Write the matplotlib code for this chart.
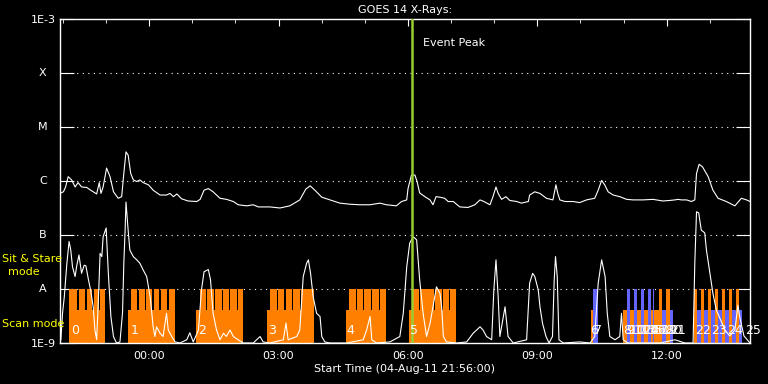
import matplotlib
matplotlib.use("Agg")
import matplotlib.pyplot as plt
import numpy as np
from matplotlib.ticker import NullLocator

# time axis: hours since start (04-Aug-11 21:56:00)
# flux: log10 of X-ray flux (W/m^2)
t_long = [0.02, 0.08, 0.13, 0.19, 0.27, 0.35, 0.42, 0.50, 0.62, 0.73, 0.85, 0.91, 0.95, 1.00,
          1.08, 1.16, 1.24, 1.35, 1.43, 1.48, 1.53, 1.58, 1.64, 1.70, 1.78, 1.85, 1.93, 2.05,
          2.16, 2.32, 2.47, 2.55, 2.63, 2.71, 2.82, 2.97, 3.17, 3.25, 3.34, 3.44, 3.55, 3.71,
          3.86, 4.02, 4.13, 4.33, 4.48, 4.60, 4.87, 5.10, 5.33, 5.56, 5.70, 5.80, 5.91, 6.07,
          6.26, 6.49, 6.72, 6.95, 7.19, 7.42, 7.57, 7.80, 7.92, 8.04, 8.07, 8.15, 8.23, 8.28,
          8.34, 8.46, 8.58, 8.65, 8.72, 8.81, 8.92, 9.00, 9.12, 9.27, 9.46, 9.62, 9.74, 9.83,
          9.97, 10.04, 10.11, 10.16, 10.24, 10.34, 10.43, 10.59, 10.70, 10.86, 10.89, 11.01,
          11.13, 11.28, 11.43, 11.50, 11.54, 11.59, 11.71, 11.90, 12.05, 12.21, 12.40, 12.48,
          12.56, 12.63, 12.71, 12.83, 12.98, 13.14, 13.29, 13.52, 13.75, 13.98, 14.14, 14.26,
          14.33, 14.41, 14.53, 14.64, 14.72, 14.76, 14.82, 14.90, 15.03, 15.14, 15.26, 15.45,
          15.65, 15.80, 15.92, 16.00]
f_long = [-6.22, -6.20, -6.11, -5.92, -5.98, -6.11, -6.03, -6.11, -6.12, -6.18, -6.24, -6.03, -6.23, -6.11,
          -5.76, -5.92, -6.20, -6.32, -6.29, -5.86, -5.46, -5.52, -5.86, -5.98, -6.01, -5.98, -6.03, -6.07,
          -6.17, -6.26, -6.26, -6.23, -6.29, -6.24, -6.33, -6.37, -6.38, -6.34, -6.17, -6.14, -6.20, -6.32,
          -6.34, -6.38, -6.44, -6.46, -6.44, -6.48, -6.48, -6.50, -6.46, -6.35, -6.15, -6.09, -6.17, -6.30,
          -6.35, -6.41, -6.43, -6.44, -6.44, -6.41, -6.44, -6.46, -6.38, -6.35, -6.14, -5.89, -5.89, -6.01,
          -6.22, -6.29, -6.35, -6.44, -6.29, -6.30, -6.32, -6.38, -6.38, -6.48, -6.49, -6.44, -6.35, -6.38,
          -6.44, -6.29, -6.11, -6.23, -6.34, -6.29, -6.36, -6.38, -6.41, -6.38, -6.26, -6.20,
          -6.23, -6.32, -6.35, -6.07, -6.22, -6.35, -6.38, -6.38, -6.40, -6.35, -6.32, -6.17,
          -5.99, -6.07, -6.20, -6.26, -6.29, -6.34, -6.35, -6.35, -6.34, -6.37, -6.36, -6.35,
          -6.34, -6.35, -6.35, -6.38, -6.35, -5.86, -5.69, -5.74, -5.92, -6.17, -6.32, -6.38,
          -6.46, -6.32, -6.35, -6.38]

t_short = [0.02, 0.06, 0.10, 0.16, 0.21, 0.25, 0.29, 0.35, 0.39, 0.44, 0.50, 0.56, 0.60, 0.66,
           0.71, 0.77, 0.81, 0.85, 0.89, 0.93, 0.97, 1.00, 1.07, 1.12, 1.18, 1.24, 1.31, 1.39,
           1.45, 1.48, 1.51, 1.53, 1.58, 1.62, 1.70, 1.78, 1.85, 1.93, 2.01, 2.09, 2.16, 2.20,
           2.24, 2.32, 2.39, 2.47, 2.51, 2.59, 2.67, 2.78, 2.94, 3.01, 3.09, 3.21, 3.28, 3.34,
           3.44, 3.49, 3.55, 3.63, 3.71, 3.79, 3.86, 3.94, 4.02, 4.13, 4.25, 4.48, 4.64, 4.71,
           4.87, 5.18, 5.24, 5.29, 5.49, 5.56, 5.64, 5.72, 5.76, 5.81, 5.87, 5.95, 6.03, 6.07,
           6.14, 6.26, 6.65, 7.03, 7.11, 7.19, 7.23, 7.34, 7.65, 7.88, 7.96, 8.04, 8.11, 8.19,
           8.27, 8.34, 8.42, 8.50, 8.58, 8.73, 8.81, 8.85, 8.89, 8.96, 9.20, 9.43, 9.58, 9.74,
           9.81, 9.89, 10.01, 10.06, 10.11, 10.16, 10.20, 10.32, 10.39, 10.51, 10.82, 10.89,
           10.96, 11.01, 11.09, 11.13, 11.19, 11.27, 11.34, 11.42, 11.46, 11.49, 11.53, 11.57,
           11.67, 12.05, 12.29, 12.40, 12.48, 12.56, 12.64, 12.69, 12.75, 12.87, 12.98, 13.02,
           13.06, 13.17, 13.91, 14.26, 14.49, 14.68, 14.72, 14.76, 14.81, 14.87, 14.95, 14.99,
           15.07, 15.14, 15.22, 15.30, 15.42, 15.53, 15.65, 15.72, 15.76, 15.86, 16.00]
f_short = [-8.94, -8.44, -8.14, -7.52, -7.12, -7.28, -7.59, -7.77, -7.56, -7.37, -7.71, -7.56, -7.57, -7.83,
           -8.02, -8.33, -8.76, -8.94, -8.20, -7.34, -7.40, -7.03, -6.87, -7.70, -8.51, -8.88, -9.00, -8.98,
           -8.44, -7.52, -6.91, -6.39, -6.91, -7.28, -7.40, -7.46, -7.52, -7.65, -7.77, -8.14, -8.70, -8.88,
           -8.70, -8.82, -8.88, -8.45, -8.76, -8.88, -8.98, -9.00, -8.94, -8.81, -8.98, -8.76, -8.02, -7.68,
           -7.64, -7.83, -8.45, -8.76, -8.94, -8.82, -8.88, -8.76, -8.88, -8.94, -9.00, -9.00, -8.88, -8.98,
           -9.00, -8.94, -8.63, -8.94, -8.88, -8.76, -7.77, -7.52, -7.46, -7.71, -8.14, -8.45, -8.51, -8.88,
           -8.98, -9.00, -9.00, -8.94, -8.76, -8.51, -8.94, -9.00, -8.98, -8.88, -8.45, -7.59, -7.15, -7.03,
           -7.09, -7.83, -8.45, -8.88, -8.64, -7.96, -8.08, -8.33, -8.88, -8.98, -9.00, -8.98, -8.82, -8.70,
           -8.76, -8.88, -8.94, -8.02, -7.46, -8.14, -8.88, -8.33, -8.88, -9.00, -8.94, -7.89,
           -7.71, -7.77, -8.02, -8.33, -8.64, -8.88, -9.00, -8.88, -7.83, -7.40, -7.77, -8.94,
           -9.00, -8.98, -9.00, -8.88, -7.89, -7.46, -7.77, -8.45, -8.88, -8.94, -8.88, -8.45,
           -8.94, -9.00, -9.00, -8.94, -9.00, -9.00, -7.52, -6.57, -6.59, -6.91, -6.96, -7.28,
           -7.71, -8.08, -8.39, -8.54, -8.76, -8.87, -8.76, -8.30, -8.51, -8.87, -9.00]

# observation intervals (hours since start)
orange_lo = [(0.21, 1.04), (1.58, 2.67), (3.15, 4.24), (4.80, 5.89), (6.63, 7.56),
             (8.09, 9.18), (12.31, 12.37), (13.05, 13.89)]
orange_hi = [(0.21, 0.39), (0.45, 0.58), (0.62, 0.74), (0.78, 0.90), (0.93, 1.04),
             (1.65, 1.79), (1.83, 1.97), (2.00, 2.13), (2.17, 2.30), (2.34, 2.48), (2.53, 2.67),
             (3.24, 3.39), (3.42, 3.57), (3.60, 3.75), (3.77, 3.92), (3.95, 4.10), (4.12, 4.24),
             (4.88, 5.03), (5.06, 5.20), (5.24, 5.38), (5.41, 5.56), (5.59, 5.74), (5.76, 5.89),
             (6.71, 6.86), (6.89, 7.03), (7.06, 7.21), (7.24, 7.39), (7.43, 7.56),
             (8.17, 8.32), (8.35, 8.50), (8.52, 8.67), (8.70, 8.85), (8.87, 9.01), (9.05, 9.18),
             (13.89, 13.96), (14.05, 14.15),
             (14.70, 14.77), (14.86, 14.93), (15.02, 15.09), (15.18, 15.25), (15.35, 15.42),
             (15.51, 15.58), (15.67, 15.74)]
blue_lo = [(13.96, 14.05), (14.15, 14.21),
           (14.77, 14.86), (14.93, 15.02), (15.09, 15.18), (15.25, 15.35), (15.42, 15.51),
           (15.58, 15.67), (15.74, 15.81)]
blue_hi = [(12.37, 12.48), (13.14, 13.21), (13.31, 13.38), (13.47, 13.54), (13.63, 13.70),
           (13.75, 13.78)]

obs_names = [str(i) for i in range(26)]
obs_times = [0.25, 1.65, 3.20, 4.82, 6.65, 8.11, 12.29, 12.38,
             13.05, 13.14, 13.21, 13.30, 13.38, 13.47, 13.54, 13.63, 13.70, 13.75,
             13.89, 13.95, 14.05, 14.14,
             14.72, 15.09, 15.48, 15.88]

start_to_midnight = 2 + 4 / 60.0   # 21:56 -> 00:00
tick_hours = [0, 3, 6, 9, 12]
tick_names = ["00:00", "03:00", "06:00", "09:00", "12:00"]
event_peak = 8.17

levels = [1e-3, 1e-4, 1e-5, 1e-6, 1e-7, 1e-8, 1e-9]
level_names = ["1E-3", "X", "M", "C", "B", "A", "1E-9"]

ORANGE = "#ff8000"
BLUE = "#6464ff"
lo_top = 10 ** -8.39
hi_top = 1e-8
floor = 1e-9

fig = plt.figure(figsize=(7.68, 3.84), dpi=100, facecolor="black")
ax = fig.add_axes([60 / 768, 41 / 384, 690 / 768, 324 / 384])
ax.set_facecolor("black")
ax.set_yscale("log")
ax.set_xlim(0, 16)
ax.set_ylim(floor, 1e-3)

# observation bars
for spans, top, col in [(orange_lo, lo_top, ORANGE), (blue_lo, lo_top, BLUE),
                        (orange_hi, hi_top, ORANGE), (blue_hi, hi_top, BLUE)]:
    for t0, t1 in spans:
        ax.bar(t0, top - floor, width=t1 - t0, bottom=floor, align="edge",
               color=col, linewidth=0, zorder=2)

for name, t in zip(obs_names, obs_times):
    ax.text(t, 0.018, name, transform=ax.get_xaxis_transform(), color="white",
            fontsize=9, ha="left", va="bottom", zorder=5)

# dotted level lines
for lv in levels[1:-1]:
    ax.axhline(lv, color="white", lw=0.8, ls=(0, (1, 4)), zorder=1)

ax.plot(t_long, 10 ** np.array(f_long), color="white", lw=0.8, zorder=3)
ax.plot(t_short, 10 ** np.array(f_short), color="white", lw=0.8, zorder=3)

ax.axvline(event_peak, color="#9acd32", lw=1.8, zorder=4)
ax.text(8.42, 10 ** -3.44, "Event Peak", color="white", fontsize=8, ha="left", va="center")

# axes styling
for s in ax.spines.values():
    s.set_color("white")
    s.set_linewidth(1)

ax.set_yticks(levels)
ax.set_yticklabels([n if n.startswith("1E") else "" for n in level_names])
ax.yaxis.set_minor_locator(NullLocator())
ax.tick_params(axis="y", which="major", direction="in", length=10, left=True, right=True,
               color="white", labelcolor="white", labelsize=8, pad=3)
for lv, n in zip(levels, level_names):
    if not n.startswith("1E"):
        ax.text(-0.025, lv, n, transform=ax.get_yaxis_transform(), color="white",
                fontsize=8, ha="center", va="center")

ax.set_xticks([start_to_midnight + h for h in tick_hours])
ax.set_xticklabels(tick_names)
ax.set_xticks(np.arange(start_to_midnight - 2, 16, 1), minor=True)
ax.tick_params(axis="x", which="both", direction="in", top=True, bottom=False,
               labelbottom=True, labeltop=False, color="white", labelcolor="white",
               labelsize=8, pad=6)
ax.tick_params(axis="x", which="major", length=5)
ax.tick_params(axis="x", which="minor", length=3)

ax.set_xlabel("Start Time (04-Aug-11 21:56:00)", color="white", fontsize=8, labelpad=2)
ax.set_title("GOES 14 X-Rays:", color="white", fontsize=8, pad=4)

fig.text(2 / 768, 1 - 259 / 384, "Sit & Stare", color="yellow", fontsize=8, ha="left", va="center")
fig.text(24 / 768, 1 - 272 / 384, "mode", color="yellow", fontsize=8, ha="center", va="center")
fig.text(2 / 768, 1 - 324 / 384, "Scan mode", color="yellow", fontsize=8, ha="left", va="center")

fig.savefig("out.png", dpi=100, facecolor="black")
